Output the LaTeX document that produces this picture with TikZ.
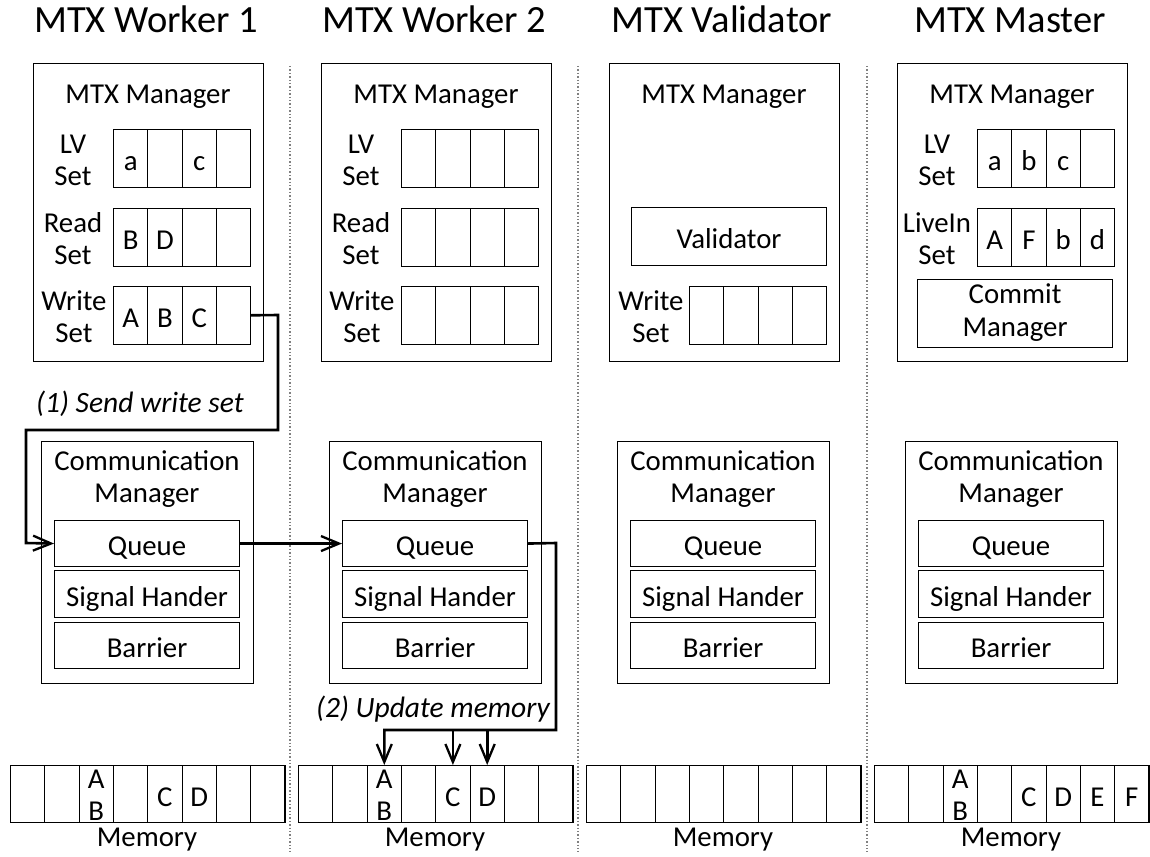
\documentclass[tikz,border=0pt]{standalone}
\usepackage{fontspec}
\setmainfont{Carlito}
\usetikzlibrary{arrows.meta}

% one row of equally wide cells: name, left x, top y, cell width, cell height, entries
\newcommand\cellrow[6]{%
  \foreach \t [count=\i] in {#6} {
    \node[cell, minimum width=#4pt, minimum height=#5pt] (#1-\i) at ({#2+(\i-1)*#4},#3) {\t};
  }}
% fixed line box so that every cell entry sits on the same baseline
\newcommand\cellstrut{\rule[-6pt]{0pt}{36pt}}

\begin{document}
\begin{tikzpicture}[x=1pt,y=-1pt,
  txt/.style={font=\fontsize{28.8}{32}\selectfont, inner sep=0pt, align=center},
  title/.style={font=\fontsize{38.5}{42}\selectfont, inner sep=0pt, anchor=base},
  frame/.style={draw, line width=1.1pt},
  cell/.style={draw, line width=1.1pt, inner sep=0pt, anchor=north west, align=center,
               font=\fontsize{28.8}{33}\selectfont,
               execute at begin node=\cellstrut, execute at end node=\cellstrut},
  pairtop/.style={txt, anchor=base, yshift=6pt},
  pairbot/.style={txt, anchor=base, yshift=-26.5pt},
  lbl/.style={font=\fontsize{29.5}{32}\selectfont\itshape, inner sep=0pt, anchor=base},
  flow/.style={line width=2.6pt, -{Straight Barb[length=18pt,width=15pt,line width=2.3pt]}},
  divider/.style={draw=gray, dotted, line width=1.4pt}]

\useasboundingbox (0,0) rectangle (1150,856);

% ---------- columns ----------
\foreach \X/\ttl/\id in {33/MTX Worker 1/w1, 321/MTX Worker 2/w2, 609/MTX Validator/va, 897/MTX Master/ma} {
  \node[title] (\id-title) at (\X+113,33) {\ttl};
  % MTX manager frame
  \node[frame, minimum width=230pt, minimum height=298pt, anchor=north west, inner sep=0pt]
    (\id-mtx) at (\X,63) {};
  \node[txt, anchor=base] (\id-mtxname) at (\X+115,103) {MTX Manager};
  % communication manager frame
  \node[frame, minimum width=212pt, minimum height=242pt, anchor=north west, inner sep=0pt]
    (\id-comm) at (\X+8,441) {};
  \node[txt, anchor=base] (\id-commname) at (\X+114,470) {Communication};
  \node[txt, anchor=base] (\id-commname2) at (\X+114,502) {Manager};
  \node[cell, minimum width=185pt, minimum height=46pt] (\id-queue) at (\X+21,520) {Queue};
  \node[cell, minimum width=185pt, minimum height=47pt] (\id-signal) at (\X+21,570) {Signal Hander};
  \node[cell, minimum width=185pt, minimum height=46pt] (\id-barrier) at (\X+21,622) {Barrier};
  \node[txt, anchor=base] (\id-memname) at (\X+114,846) {Memory};
}

% ---------- set rows ----------
\tikzset{setname/.style={txt, font=\fontsize{28.8}{32}\selectfont}}
\cellrow{w1lv}{113}{129}{34.25}{57.5}{a,{},c,{}}
\cellrow{w1rs}{113}{208}{34.25}{57.5}{B,D,{},{}}
\cellrow{w1ws}{113}{286}{34.25}{57.5}{A,B,C,{}}
\node[setname] (w1lvl) at (73,160) {LV\\Set};
\node[setname] (w1rsl) at (73,239) {Read\\Set};
\node[setname] (w1wsl) at (74,317) {Write\\Set};

\cellrow{w2lv}{401}{129}{34.25}{57.5}{{},{},{},{}}
\cellrow{w2rs}{401}{208}{34.25}{57.5}{{},{},{},{}}
\cellrow{w2ws}{401}{286}{34.25}{57.5}{{},{},{},{}}
\node[setname] (w2lvl) at (361,160) {LV\\Set};
\node[setname] (w2rsl) at (361,239) {Read\\Set};
\node[setname] (w2wsl) at (362,317) {Write\\Set};

\node[cell, minimum width=195pt, minimum height=58pt] (va-validator) at (631,207) {Validator};
\cellrow{vaws}{689}{286}{34.25}{57.5}{{},{},{},{}}
\node[setname] (vawsl) at (651,317) {Write\\Set};

\cellrow{malv}{977}{129}{34.25}{57.5}{a,b,c,{}}
\cellrow{mali}{977}{208}{34.25}{57.5}{A,F,b,d}
\node[setname] (malvl) at (937,160) {LV\\Set};
\node[setname] (malil) at (937,239) {LiveIn\\Set};
\node[cell, minimum width=195pt, minimum height=68pt] (ma-commit) at (917,279) {Commit\\Manager};

% ---------- memories ----------
\cellrow{w1mem}{10}{765}{34.3}{57}{{},{},{},{},C,D,{},{}}
\cellrow{w2mem}{298}{765}{34.3}{57}{{},{},{},{},C,D,{},{}}
\cellrow{vamem}{586}{765}{34.3}{57}{{},{},{},{},{},{},{},{}}
\cellrow{mamem}{874}{765}{34.3}{57}{{},{},{},{},C,D,E,F}
% the shared cell that holds both A and B
\foreach \m in {w1mem, w2mem, mamem} {
  \node[pairtop] (\m-a) at (\m-3.center) {A};
  \node[pairbot] (\m-b) at (\m-3.center) {B};
}

% ---------- column dividers ----------
\foreach \x [count=\k] in {290,578,867} {
  \coordinate (divtop\k) at (\x,66);
  \coordinate (divbot\k) at (\x,852);
  \draw[divider] (divtop\k) -- (divbot\k);
}

% ---------- (1) send write set ----------
\coordinate (s1) at (278,315);
\coordinate (s2) at (278,430);
\coordinate (s3) at (26,430);
\coordinate (s4) at (26,543);
\draw[flow, line join=miter] (w1ws-4.east) -- (s1) -- (s2) -- (s3) -- (s4) -- (w1-queue.west);
\node[lbl] (lab1) at (140,412) {(1) Send write set};

% queue to queue
\draw[flow] (w1-queue.east) -- (w2-queue.west);

% ---------- (2) update memory ----------
\coordinate (u1) at (556,543);
\coordinate (u2) at (556,730);
\coordinate (u3) at (w2mem-3.north |- u2);
\draw[flow, line join=miter] (w2-queue.east) -- (u1) -- (u2) -- (u3) -- (w2mem-3.north);
\draw[flow] (w2mem-5.north |- u2) -- (w2mem-5.north);
\draw[flow] (w2mem-6.north |- u2) -- (w2mem-6.north);
\node[lbl] (lab2) at (433,717) {(2) Update memory};

\end{tikzpicture}
\end{document}
